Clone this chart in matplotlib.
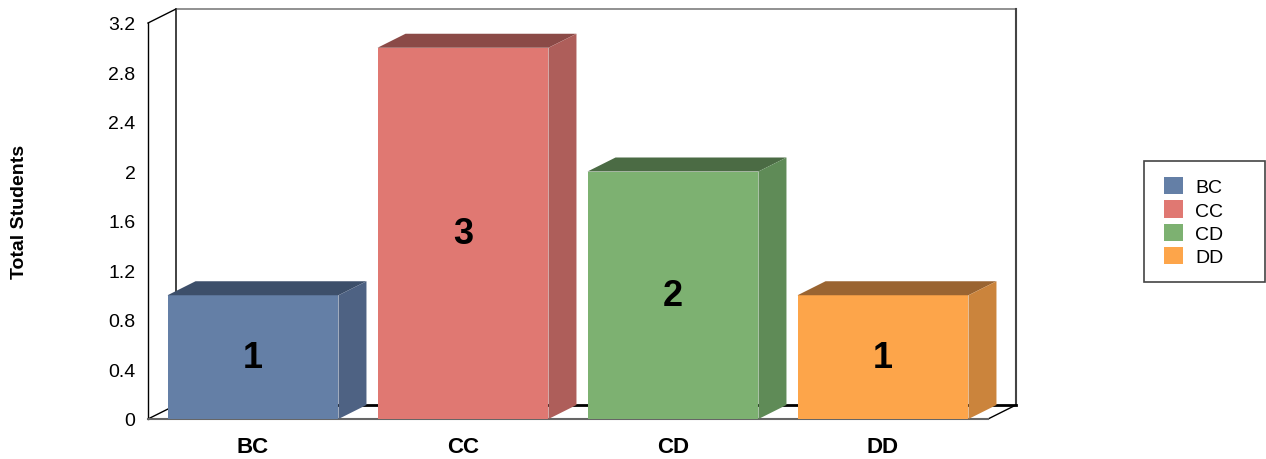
import matplotlib
matplotlib.use('Agg')
import matplotlib.pyplot as plt
from matplotlib.patches import Polygon, Patch, Rectangle

plt.rcParams['font.family'] = ['Liberation Sans', 'DejaVu Sans']

# data
categories = ['BC', 'CC', 'CD', 'DD']
values = [1, 3, 2, 1]
front_colors = ['#647FA6', '#E07872', '#7DB171', '#FDA54A']
top_colors = ['#3D4F6A', '#8B4A47', '#4B6B44', '#9A6431']
side_colors = ['#4E6283', '#AE5E5A', '#5F8B57', '#CB843C']
yticks = [0, 0.4, 0.8, 1.2, 1.6, 2, 2.4, 2.8, 3.2]
ytick_labels = ['0', '0.4', '0.8', '1.2', '1.6', '2', '2.4', '2.8', '3.2']

W, H = 1266, 460
fig = plt.figure(figsize=(W / 100, H / 100), dpi=100)
ax = fig.add_axes([148 / W, 40 / H, 840 / W, 396 / H])
ax.set_xlim(-0.5, 3.5)
ax.set_ylim(0, 3.2)

# depth offset in data units
dx = 28 / 210
dy = 14 / 123.75
bw = 0.814

for s in ax.spines.values():
    s.set_visible(False)
ax.tick_params(length=0)
ax.set_yticks(yticks)
ax.set_yticklabels(ytick_labels, fontsize=14)
ax.tick_params(axis='y', pad=9)
ax.set_xticks(range(len(categories)))
ax.set_xticklabels(categories, fontsize=16, fontweight='bold')
ax.tick_params(axis='x', pad=12)

x0, x1 = -0.5, 3.5
y0, y1 = 0, 3.2
# back wall
ax.plot([x0 + dx, x0 + dx], [y0 + dy, y1 + dy], color='#333333', lw=1.3, clip_on=False, zorder=1)
ax.plot([x0 + dx, x1 + dx], [y1 + dy, y1 + dy], color='#888888', lw=1.3, clip_on=False, zorder=1)
ax.plot([x1 + dx, x1 + dx], [y0 + dy, y1 + dy], color='#444444', lw=1.5, clip_on=False, zorder=1)
# left wall
ax.plot([x0, x0], [y0, y1], color='black', lw=1, clip_on=False, zorder=1)
ax.plot([x0, x0 + dx], [y1, y1 + dy], color='black', lw=1, clip_on=False, zorder=1)
# floor
ax.plot([x0 + dx, x1 + dx], [y0 + dy, y0 + dy], color='black', lw=2, clip_on=False, zorder=1)
ax.plot([x0, x0 + dx], [y0, y0 + dy], color='black', lw=1, clip_on=False, zorder=1)
ax.plot([x1, x1 + dx], [y0, y0 + dy], color='black', lw=1, clip_on=False, zorder=1)
ax.plot([x0, x1], [y0, y0], color='#666666', lw=1.5, clip_on=False, zorder=1)

for i, v in enumerate(values):
    l = i - bw / 2
    r = i + bw / 2
    front = Polygon([(l, 0), (r, 0), (r, v), (l, v)], closed=True,
                    facecolor=front_colors[i], edgecolor='none', zorder=3, clip_on=False)
    top = Polygon([(l, v), (r, v), (r + dx, v + dy), (l + dx, v + dy)], closed=True,
                  facecolor=top_colors[i], edgecolor='none', zorder=3, clip_on=False)
    side = Polygon([(r, 0), (r + dx, dy), (r + dx, v + dy), (r, v)], closed=True,
                   facecolor=side_colors[i], edgecolor='none', zorder=3, clip_on=False)
    ax.add_patch(front)
    ax.add_patch(top)
    ax.add_patch(side)
    ax.text(i, v / 2, str(v), ha='center', va='center', fontsize=26,
            fontweight='bold', color='black', zorder=4)

fig.text(20 / W, 1 - 212 / H, 'Total Students', rotation=90, ha='center', va='center',
         fontsize=14, fontweight='bold')

# legend box
fig.patches.append(Rectangle((1144 / W, 1 - 283 / H), 121 / W, 121 / H,
                             transform=fig.transFigure, facecolor='white',
                             edgecolor='#444444', lw=1.2, zorder=0))
handles = [Patch(facecolor=c, edgecolor='none') for c in front_colors]
leg = fig.legend(handles, categories, loc='upper left',
                 bbox_to_anchor=(1164 / W, 1 - 178 / H), fontsize=14,
                 frameon=False, handlelength=1.0, handleheight=1.0,
                 handletextpad=0.6, labelspacing=0.2, borderpad=0,
                 borderaxespad=0)

fig.savefig('out.png', dpi=100)
